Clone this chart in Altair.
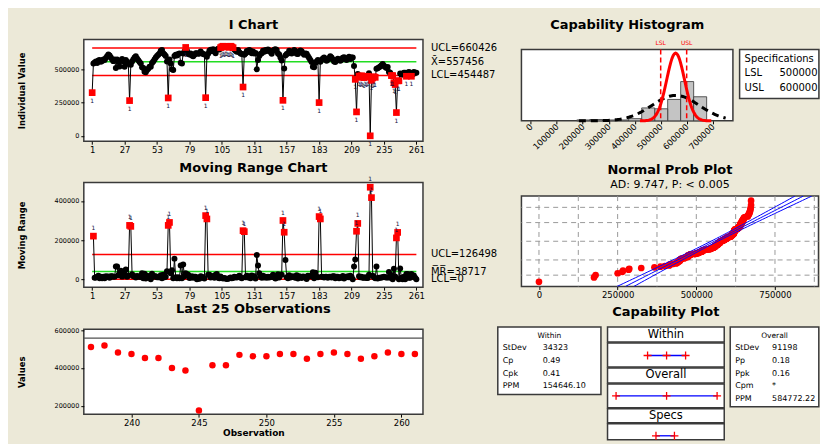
import altair as alt
import pandas as pd
import numpy as np
from statistics import NormalDist

# ---------------- data ----------------
i_values = [
    # 1-30
    325000, 545000, 552000, 560000, 548000, 566000, 571000, 558000, 563000, 575000,
    570000, 585000, 598000, 612000, 605000, 590000, 575000, 562000, 575000, 510000,
    575000, 555000, 522000, 565000, 578000, 560000, 520000, 570000, 558000, 540000,
    # 31-60
    265000, 535000, 560000, 575000, 590000, 598000, 582000, 568000, 556000, 545000,
    515000, 510000, 482000, 478000, 495000, 505000, 520000, 520000, 548000, 560000,
    575000, 590000, 600000, 610000, 620000, 640000, 645000, 622000, 612000, 600000,
    # 61-90
    560000, 285000, 575000, 545000, 500000, 495000, 600000, 610000, 605000, 615000,
    620000, 550000, 545000, 620000, 635000, 665000, 640000, 618000, 612000, 620000,
    605000, 598000, 610000, 622000, 622000, 618000, 620000, 635000, 622000, 615000,
    # 91-120
    612000, 287000, 595000, 618000, 640000, 648000, 636000, 652000, 645000, 622000,
    648000, 655000, 650000, 664000, 670000, 674000, 668000, 672000, 673000, 671000,
    666000, 674000, 669000, 663000, 650000, 640000, 632000, 645000, 628000, 620000,
    # 121-150
    615000, 367000, 610000, 620000, 638000, 630000, 645000, 640000, 621000, 635000,
    620000, 624000, 500000, 570000, 600000, 615000, 622000, 640000, 632000, 645000,
    638000, 650000, 642000, 630000, 618000, 640000, 648000, 652000, 645000, 620000,
    # 151-180
    612000, 590000, 567000, 267000, 507000, 605000, 615000, 620000, 640000, 632000,
    620000, 635000, 645000, 638000, 618000, 615000, 630000, 642000, 636000, 622000,
    610000, 619000, 618000, 600000, 585000, 570000, 555000, 520000, 515000, 548000,
    # 181-210
    560000, 570000, 250000, 558000, 570000, 582000, 590000, 578000, 565000, 572000,
    585000, 598000, 590000, 575000, 560000, 555000, 568000, 580000, 575000, 565000,
    572000, 588000, 592000, 580000, 570000, 585000, 595000, 578000, 590000, 590000,
    # 211-236
    525000, 425000, 180000, 465000, 450000, 440000, 452000, 445000, 438000, 448000,
    442000, 448000, 470000, 0, 417000, 435000, 445000, 440000, 505000, 508000,
    515000, 522000, 530000, 540000, 528000, 518000,
    # 237-261
    510000, 518000, 481000, 474000, 453000, 453000, 400000, 386000, 175000, 414000,
    414000, 469000, 462000, 462000, 474000, 474000, 448000, 474000, 481000, 474000,
    448000, 462000, 481000, 474000, 474000,
]
assert len(i_values) == 261

i_ticks = [1, 27, 53, 79, 105, 131, 157, 183, 209, 235, 261]
last25_ticks = [240, 245, 250, 255, 260]
hist_ticks = [0, 100000, 200000, 300000, 400000, 500000, 600000, 700000]
prob_ticks = [0, 250000, 500000, 750000]
prob_vgrid = [0, 125000, 250000, 375000, 500000, 625000, 750000, 875000]
prob_hgrid = [-2.326, -1.2816, 0.0, 1.2816, 2.326]

UCL_I, CL_I, LCL_I = 660426, 557456, 454487
UCL_MR, CL_MR, LCL_MR = 126498, 38717, 0
LSL, USL = 500000, 600000
MEAN = 557456
SD_WITHIN = 34323
SD_OVERALL = 91198
AD_TEXT = "AD: 9.747, P: < 0.005"
within_stats = [("StDev", "34323"), ("Cp", "0.49"), ("Cpk", "0.41"), ("PPM", "154646.10")]
overall_stats = [("StDev", "91198"), ("Pp", "0.18"), ("Ppk", "0.16"), ("Cpm", "*"), ("PPM", "584772.22")]
spec_rows = [("LSL", "500000"), ("USL", "600000")]

# ---------------- styling ----------------
FONT = "DejaVu Sans"
BG = "#ECE9D8"
RED = "#FF0000"
GREEN = "#22DD22"
PLUS = "M-1,0H1M0,-1V1"

N = len(i_values)
obs = list(range(1, N + 1))
dfI = pd.DataFrame({"obs": obs, "val": i_values})
dfI["flag"] = (dfI.val > UCL_I) | (dfI.val < LCL_I)
dfMR = pd.DataFrame({"obs": obs[1:], "val": np.abs(np.diff(i_values))})
dfMR["flag"] = dfMR.val > UCL_MR
df25 = dfI[dfI.obs >= 237].copy()


def spacer(w, h):
    return alt.Chart(pd.DataFrame({"a": [0]})).mark_point(opacity=0).encode(
        x=alt.value(0), y=alt.value(0)
    ).properties(width=w, height=h, view=alt.ViewBackground(strokeOpacity=0, fillOpacity=0))


def y_axis(title, values):
    return alt.Axis(values=values, format="d", title=title, titleX=-62.8, titleAngle=270,
                    titleAlign="center", titleBaseline="middle", titleFontSize=8.5,
                    titleFontWeight="bold", labelFontSize=6.5, tickSize=3, labelPadding=2,
                    labelOverlap=False)


x_idx = alt.X("obs:Q", scale=alt.Scale(domain=[-5.7, 266.3], nice=False, zero=False),
              axis=alt.Axis(values=i_ticks, title=None, labelFontSize=8.5, tickSize=3,
                            labelPadding=1, labelOverlap=False))


def control_chart(df, ydom, yvals, ytitle, lims, title, height, ones_dy):
    y_enc = alt.Y("val:Q", scale=alt.Scale(domain=ydom, nice=False, zero=False),
                  axis=y_axis(ytitle, yvals))
    rules = alt.Chart(lims).mark_rule(strokeWidth=1.5).encode(
        x=x_idx, x2="obs2:Q", y=y_enc, color=alt.Color("col:N", scale=None))
    line = alt.Chart(df).mark_line(color="black", strokeWidth=1).encode(x=x_idx, y=y_enc)
    dots = alt.Chart(df).transform_filter("!datum.flag").mark_circle(
        color="black", size=36, opacity=1).encode(x=x_idx, y=y_enc)
    reds = alt.Chart(df).transform_filter("datum.flag").mark_square(
        color=RED, size=45, opacity=1).encode(x=x_idx, y=y_enc)
    ones = alt.Chart(df).transform_filter("datum.flag").mark_text(
        text="1", fontSize=6, dy=ones_dy, color="#101040").encode(x=x_idx, y=y_enc)
    labels = alt.Chart(lims).mark_text(align="left", baseline="middle", fontSize=10,
                                        color="black").encode(
        x=alt.value(348), y=y_enc, text="lab:N")
    return alt.layer(rules, line, dots, reds, ones, labels).properties(
        width=340, height=height, title=title)


lim_I = pd.DataFrame({"obs": [1, 1, 1], "obs2": [261] * 3, "val": [UCL_I, CL_I, LCL_I],
                      "col": [RED, GREEN, RED],
                      "lab": [f"UCL={UCL_I}", f"X\u0304={CL_I}", f"LCL={LCL_I}"]})
lim_MR = pd.DataFrame({"obs": [1, 1, 1], "obs2": [261] * 3, "val": [UCL_MR, CL_MR, LCL_MR],
                       "col": [RED, GREEN, RED],
                       "lab": [f"UCL={UCL_MR}", f"M\u0305R\u0305={CL_MR}", f"LCL={LCL_MR}"]})

i_chart = control_chart(dfI, [-40500, 725000], [0, 250000, 500000], "Individual Value", lim_I,
                        alt.TitleParams("I Chart", offset=7.4), 102, 8)
mr_chart = control_chart(dfMR, [-40800, 494700], [0, 200000, 400000], "Moving Range", lim_MR,
                         alt.TitleParams("Moving Range Chart", offset=1.5), 105, -8)

# Last 25
x25 = alt.X("obs:Q", scale=alt.Scale(domain=[236.47, 261.6], nice=False, zero=False),
            axis=alt.Axis(values=last25_ticks, title="Observation", titleFontSize=9,
                          titleFontWeight="bold", labelFontSize=8.5, tickSize=3,
                          labelPadding=1, titlePadding=2, labelOverlap=False))
y25 = alt.Y("val:Q", scale=alt.Scale(domain=[156200, 603700], nice=False, zero=False),
            axis=y_axis("Values", [200000, 400000, 600000]))
l25_mean = alt.Chart(pd.DataFrame({"val": [CL_I]})).mark_rule(
    color="#505050", strokeWidth=1.2).encode(y=y25)
l25_pts = alt.Chart(df25).mark_circle(color=RED, size=42, opacity=1).encode(x=x25, y=y25)
l25_chart = alt.layer(l25_mean, l25_pts).properties(
    width=340, height=85, title=alt.TitleParams("Last 25 Observations", offset=10.6))

# Histogram
hx_scale = alt.Scale(domain=[-36000, 778000], nice=False, zero=False)
hx_axis = alt.Axis(values=hist_ticks, format="d", labelAngle=315, labelAlign="right",
                   labelBaseline="middle", labelFontSize=8.5, tickSize=3, labelPadding=1,
                   title=None, labelOverlap=False, labelBound=False)
hy_scale = alt.Scale(domain=[0, 160], nice=False, zero=False)
bars = alt.Chart(dfI).mark_bar(color="#C4C4C4", stroke="#333333", strokeWidth=0.8,
                               binSpacing=0).encode(
    x=alt.X("val:Q", bin=alt.Bin(step=50000, anchor=475000), scale=hx_scale, axis=hx_axis),
    y=alt.Y("count():Q", scale=hy_scale, axis=None))
nd_w = NormalDist(MEAN, SD_WITHIN)
nd_o = NormalDist(MEAN, SD_OVERALL)
gx_w = np.linspace(MEAN - 4 * SD_WITHIN, MEAN + 4 * SD_WITHIN, 121)
gx_o = np.linspace(185000, 750000, 121)
curve_w = pd.DataFrame({"cx": gx_w, "cy": [nd_w.pdf(v) * N * 50000 for v in gx_w]})
curve_o = pd.DataFrame({"cx": gx_o, "cy": [nd_o.pdf(v) * N * 50000 for v in gx_o]})
c_over = alt.Chart(curve_o).mark_line(color="black", strokeWidth=3, strokeDash=[7, 5]).encode(
    x=alt.X("cx:Q", scale=hx_scale, axis=hx_axis), y=alt.Y("cy:Q", scale=hy_scale, axis=None))
c_with = alt.Chart(curve_w).mark_line(color=RED, strokeWidth=3).encode(
    x=alt.X("cx:Q", scale=hx_scale, axis=hx_axis), y=alt.Y("cy:Q", scale=hy_scale, axis=None))
spec_df = pd.DataFrame({"v": [LSL, USL], "lab": ["LSL", "USL"]})
spec_rules = alt.Chart(spec_df).mark_rule(color=RED, strokeDash=[5, 3], strokeWidth=1.5).encode(
    x=alt.X("v:Q", scale=hx_scale, axis=hx_axis))
spec_text = alt.Chart(spec_df).mark_text(color=RED, fontSize=6, baseline="bottom").encode(
    x=alt.X("v:Q", scale=hx_scale, axis=hx_axis), y=alt.value(-3), text="lab:N")
hist_chart = alt.layer(bars, c_over, c_with, spec_rules, spec_text).properties(
    width=212, height=71.6, title=alt.TitleParams("Capability Histogram", offset=8))

# Specifications box
sp_h = 49.3
sp_scale = alt.Scale(domain=[-0.641, -0.641 + sp_h / 14.5], reverse=True, nice=False, zero=False)
sp_rows = pd.DataFrame({"lab": [r[0] for r in spec_rows], "v": [r[1] for r in spec_rows],
                        "row": [1, 2]})
sp_head = alt.Chart(pd.DataFrame({"t": ["Specifications"], "row": [0]})).mark_text(
    align="left", baseline="middle", fontSize=10, color="black").encode(
    x=alt.value(5), y=alt.Y("row:Q", scale=sp_scale, axis=None), text="t:N")
sp_lab = alt.Chart(sp_rows).mark_text(align="left", baseline="middle", fontSize=10,
                                      color="black").encode(
    x=alt.value(5), y=alt.Y("row:Q", scale=sp_scale, axis=None), text="lab:N")
sp_val = alt.Chart(sp_rows).mark_text(align="left", baseline="middle", fontSize=10,
                                      color="black").encode(
    x=alt.value(40), y=alt.Y("row:Q", scale=sp_scale, axis=None), text="v:N")
specs_box = alt.layer(sp_head, sp_lab, sp_val).properties(width=79.5, height=sp_h)

# Normal probability plot
srt = sorted(i_values)
std = NormalDist()
pp = pd.DataFrame({"v": srt, "z": [std.inv_cdf((k - 0.3) / (N + 0.4)) for k in range(1, N + 1)]})
px_scale = alt.Scale(domain=[-55700, 888300], nice=False, zero=False)
px_axis = alt.Axis(values=prob_ticks, format="d", labelFontSize=8.5, tickSize=3,
                   labelPadding=1, title=None, labelOverlap=False)
pz_scale = alt.Scale(domain=[-3.1, 3.1], nice=False, zero=False)
vgrid = alt.Chart(pd.DataFrame({"v": prob_vgrid})).mark_rule(
    color="#9A9A9A", strokeDash=[5, 4], strokeWidth=1).encode(x=alt.X("v:Q", scale=px_scale, axis=px_axis))
hgrid = alt.Chart(pd.DataFrame({"z": prob_hgrid})).mark_rule(
    color="#9A9A9A", strokeDash=[5, 4], strokeWidth=1).encode(y=alt.Y("z:Q", scale=pz_scale, axis=None))
zg = np.linspace(-3.1, 3.1, 63)
half = 1.96 * SD_OVERALL * np.sqrt(1.0 / N + zg ** 2 / (2.0 * (N - 1)))
fit = pd.DataFrame({"z": np.concatenate([zg, zg, zg]),
                    "v": np.concatenate([MEAN + zg * SD_OVERALL,
                                         MEAN + zg * SD_OVERALL - half,
                                         MEAN + zg * SD_OVERALL + half]),
                    "kind": ["fit"] * len(zg) + ["lo"] * len(zg) + ["hi"] * len(zg)})
pp_pts = alt.Chart(pp).mark_circle(color=RED, size=45, opacity=1).encode(
    x=alt.X("v:Q", scale=px_scale, axis=px_axis), y=alt.Y("z:Q", scale=pz_scale, axis=None))
pp_fit = alt.Chart(fit).mark_line(color="#0000FF", strokeWidth=1, clip=True).encode(
    x=alt.X("v:Q", scale=px_scale, axis=px_axis), y=alt.Y("z:Q", scale=pz_scale, axis=None),
    detail="kind:N", order="z:Q")
prob_chart = alt.layer(vgrid, hgrid, pp_pts, pp_fit).properties(
    width=297.8, height=90.6,
    title=alt.TitleParams("Normal Prob Plot", subtitle=AD_TEXT, subtitleFont=FONT,
                          subtitleFontSize=11, subtitleColor="black", subtitlePadding=2,
                          offset=6))


# Capability plot
def stat_box(title, rows, w, h, val_x):
    ysc = alt.Scale(domain=[-0.7, h / 12.6 - 0.7], reverse=True, nice=False, zero=False)
    df = pd.DataFrame({"lab": [r[0] for r in rows], "v": [r[1] for r in rows],
                       "row": list(range(1, len(rows) + 1))})
    head = alt.Chart(pd.DataFrame({"t": [title], "row": [0]})).mark_text(
        baseline="middle", fontSize=7.5, color="black").encode(
        x=alt.value(w / 2), y=alt.Y("row:Q", scale=ysc, axis=None), text="t:N")
    labs = alt.Chart(df).mark_text(align="left", baseline="middle", fontSize=8,
                                   color="black").encode(
        x=alt.value(5), y=alt.Y("row:Q", scale=ysc, axis=None), text="lab:N")
    vals = alt.Chart(df).mark_text(align="left", baseline="middle", fontSize=8,
                                   color="black").encode(
        x=alt.value(val_x), y=alt.Y("row:Q", scale=ysc, axis=None), text="v:N")
    return alt.layer(head, labs, vals).properties(width=w, height=h)


within_box = stat_box("Within", within_stats, 103.4, 67.7, 45)
overall_box = stat_box("Overall", overall_stats, 88.8, 80, 42)

cap_scale = alt.Scale(domain=[237600, 869700], nice=False, zero=False)
intervals = {
    "Within": [MEAN - 3 * SD_WITHIN, MEAN, MEAN + 3 * SD_WITHIN],
    "Overall": [MEAN - 3 * SD_OVERALL, MEAN, MEAN + 3 * SD_OVERALL],
    "Specs": [LSL, USL],
}


def header_box(text, h, title=None):
    c = alt.Chart(pd.DataFrame({"t": [text]})).mark_text(
        fontSize=11.5, baseline="middle", color="black").encode(
        text="t:N", x=alt.value(58.5), y=alt.value(h / 2))
    if title is not None:
        return c.properties(width=117, height=h, title=title)
    return c.properties(width=117, height=h)


def interval_box(key, h, yline):
    pts = intervals[key]
    seg = pd.DataFrame({"lo": [min(pts)], "hi": [max(pts)]})
    marks = pd.DataFrame({"v": pts})
    rule = alt.Chart(seg).mark_rule(color="#0000FF", strokeWidth=1.3).encode(
        x=alt.X("lo:Q", scale=cap_scale, axis=None), x2="hi:Q", y=alt.value(yline))
    plus = alt.Chart(marks).mark_point(shape=PLUS, size=64, color=RED, strokeWidth=1.3,
                                       filled=False, opacity=1).encode(
        x=alt.X("v:Q", scale=cap_scale, axis=None), y=alt.value(yline))
    return alt.layer(rule, plus).properties(width=117, height=h)


mid_col = alt.vconcat(
    header_box("Within", 15, alt.TitleParams("Capability Plot", offset=8)),
    interval_box("Within", 24, 12.5),
    header_box("Overall", 15),
    interval_box("Overall", 24, 12),
    header_box("Specs", 14),
    interval_box("Specs", 16, 12),
    spacing=1, bounds="flush")

# ---------------- layout ----------------
# (with flush bounds a nested concat counts as zero size, so the spacing
#  after a nested group includes that group's own extent)
left_col = alt.vconcat(
    i_chart,
    alt.vconcat(mr_chart, l25_chart, spacing=42.3, bounds="flush"),
    spacing=41.3, bounds="flush")

hist_row = alt.hconcat(spacer(16.7, 1), hist_chart, specs_box, spacing=6.7, bounds="flush")
prob_row = alt.hconcat(spacer(16.7, 1), prob_chart, spacing=6.7, bounds="flush")
cap_row = alt.hconcat(
    within_box,
    alt.hconcat(mid_col, overall_box, spacing=117 + 6, bounds="flush"),
    spacing=6, bounds="flush")
right_col = alt.vconcat(
    spacer(1, 10),
    alt.vconcat(hist_row,
                alt.vconcat(prob_row, cap_row, spacing=90.6 + 40.7, bounds="flush"),
                spacing=71.6 + 75.4, bounds="flush"),
    spacing=0, bounds="flush")

chart = alt.hconcat(left_col, right_col, spacing=340 + 75, bounds="flush").properties(
    padding={"left": 8, "top": 9, "right": 0, "bottom": 0}
).configure(background=BG, font=FONT).configure_view(
    stroke="#3A3A3A", strokeWidth=1.5, fill="white"
).configure_axis(
    labelFont=FONT, titleFont=FONT, labelColor="black", titleColor="black",
    tickColor="black", domain=False, grid=False
).configure_title(
    font=FONT, fontSize=13, fontWeight="bold", color="black", anchor="middle",
    frame="group", baseline="alphabetic"
).configure_text(font=FONT)

chart.save("out.html", embed_options={"renderer": "svg", "actions": False})
